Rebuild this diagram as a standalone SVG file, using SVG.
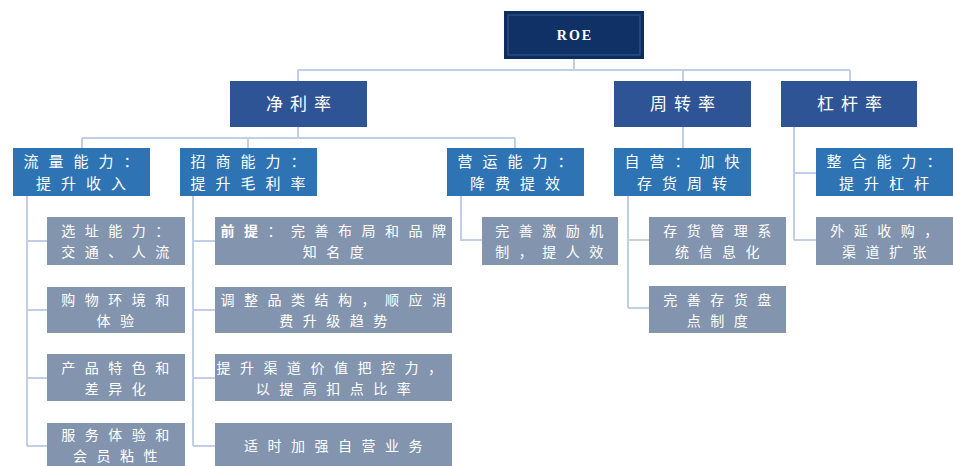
<svg xmlns="http://www.w3.org/2000/svg" width="953" height="466" viewBox="0 0 953 466">
<style>
.c{fill:none;stroke:#bfcfe5;stroke-width:2}
.l1{fill:#2f5496}
.l2{fill:#2e74b5}
.l3{fill:#8395ae}
.t{font-family:"Noto Sans CJK SC","Noto Sans",sans-serif;fill:#ffffff;text-anchor:middle;font-size:14px;letter-spacing:9.5px}
.t2{font-size:15px;letter-spacing:10px}
.t1{font-size:17px;letter-spacing:7px}
.roe{font-family:"Liberation Serif",serif;font-weight:bold;font-size:14px;fill:#ffffff;text-anchor:middle;letter-spacing:2px}
</style>
<rect width="953" height="466" fill="#ffffff"/>
<g id="connectors">
<path class="c" d="M574 59V70M298 70H850M298 70V81M683 70V81M850 70V81"/>
<path class="c" d="M298 127V138M82 138H515M82 138V148M248 138V148M515 138V148"/>
<path class="c" d="M683 127V148"/>
<path class="c" d="M794 127V240M794 173H816M794 240H816"/>
<path class="c" d="M27 196V446M27 241H47M27 310H47M27 378H47M27 446H47"/>
<path class="c" d="M193 196V446M193 241H215M193 310H215M193 378H215M193 446H215"/>
<path class="c" d="M461 196V240H482"/>
<path class="c" d="M628 196V308M628 240H649M628 308H649"/>
</g>
<g id="roe">
<rect x="504" y="11" width="140" height="48" fill="#0d2c60"/>
<rect x="508" y="15" width="132" height="40" fill="#0f3166" stroke="#3a5a8e" stroke-width="1"/>
<text class="roe" x="575" y="40">ROE</text>
</g>
<g id="jinglilv"><rect class="l1" x="230" y="81" width="137" height="46"/><text class="t t1" x="302" y="110">净利率</text></g>
<g id="zhouzhuanlv"><rect class="l1" x="614" y="81" width="137" height="46"/><text class="t t1" x="686" y="110">周转率</text></g>
<g id="gangganlv"><rect class="l1" x="781" y="81" width="136" height="46"/><text class="t t1" x="853" y="110">杠杆率</text></g>
<g id="liuliang"><rect class="l2" x="13" y="148" width="137" height="48"/><text class="t t2" x="86" y="166.5">流量能力：</text><text class="t t2" x="86" y="188.5">提升收入</text></g>
<g id="zhaoshang"><rect class="l2" x="180" y="148" width="137" height="48"/><text class="t t2" x="253" y="166.5">招商能力：</text><text class="t t2" x="253" y="188.5">提升毛利率</text></g>
<g id="yingyun"><rect class="l2" x="447" y="148" width="137" height="48"/><text class="t t2" x="520" y="166.5">营运能力：</text><text class="t t2" x="520" y="188.5">降费提效</text></g>
<g id="ziying"><rect class="l2" x="614" y="148" width="137" height="48"/><text class="t t2" x="687" y="166.5">自营：加快</text><text class="t t2" x="687" y="188.5">存货周转</text></g>
<g id="zhenghe"><rect class="l2" x="816" y="148" width="137" height="48"/><text class="t t2" x="889" y="166.5">整合能力：</text><text class="t t2" x="889" y="188.5">提升杠杆</text></g>
<g id="xuanzhi"><rect class="l3" x="47" y="217" width="138" height="48"/><text class="t" x="120" y="236">选址能力：</text><text class="t" x="120" y="257">交通、人流</text></g>
<g id="gouwu"><rect class="l3" x="47" y="287" width="138" height="46"/><text class="t" x="120" y="305">购物环境和</text><text class="t" x="120" y="326">体验</text></g>
<g id="chanpin"><rect class="l3" x="47" y="354" width="138" height="47"/><text class="t" x="120" y="372.5">产品特色和</text><text class="t" x="120" y="393.5">差异化</text></g>
<g id="fuwu"><rect class="l3" x="47" y="423" width="138" height="46"/><text class="t" x="120" y="439.5">服务体验和</text><text class="t" x="120" y="460.5">会员粘性</text></g>
<g id="qianti"><rect class="l3" x="215" y="217" width="237" height="48"/><text class="t" x="338" y="236"><tspan font-weight="bold">前提</tspan>：完善布局和品牌</text><text class="t" x="338" y="257">知名度</text></g>
<g id="tiaozheng"><rect class="l3" x="215" y="287" width="237" height="46"/><text class="t" x="338" y="305">调整品类结构，顺应消</text><text class="t" x="338" y="326">费升级趋势</text></g>
<g id="tisheng"><rect class="l3" x="215" y="354" width="237" height="47"/><text class="t" x="334" y="372.5">提升渠道价值把控力，</text><text class="t" x="338" y="393.5">以提高扣点比率</text></g>
<g id="shishi"><rect class="l3" x="215" y="423" width="237" height="46"/><text class="t" x="338" y="451">适时加强自营业务</text></g>
<g id="jili"><rect class="l3" x="482" y="217" width="136" height="48"/><text class="t" x="554" y="236">完善激励机</text><text class="t" x="554" y="257">制，提人效</text></g>
<g id="cunhuo"><rect class="l3" x="649" y="217" width="137" height="48"/><text class="t" x="722" y="236">存货管理系</text><text class="t" x="722" y="257">统信息化</text></g>
<g id="pandian"><rect class="l3" x="649" y="286" width="137" height="47"/><text class="t" x="722" y="304.5">完善存货盘</text><text class="t" x="722" y="325.5">点制度</text></g>
<g id="waiyan"><rect class="l3" x="816" y="217" width="137" height="48"/><text class="t" x="889" y="236">外延收购，</text><text class="t" x="889" y="257">渠道扩张</text></g>
</svg>
